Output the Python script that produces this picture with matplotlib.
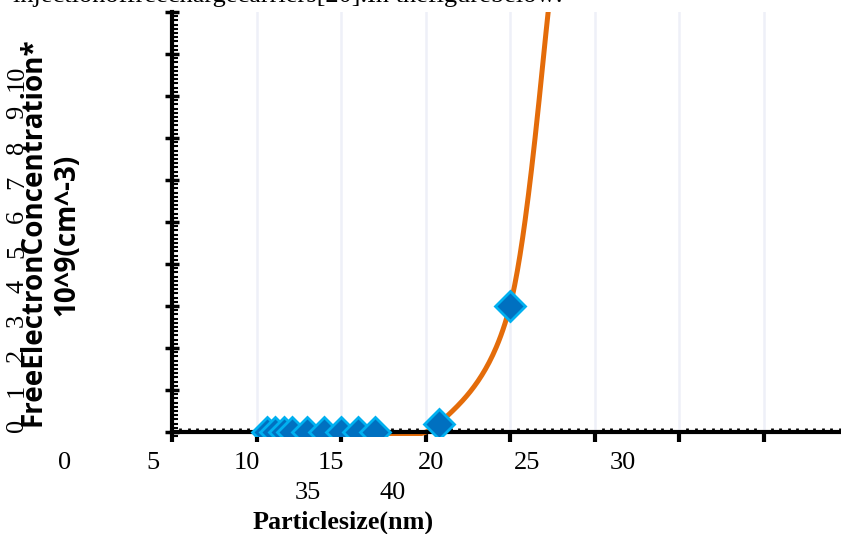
import numpy as np
import matplotlib
matplotlib.use("Agg")
import matplotlib.pyplot as plt
from matplotlib.ticker import MultipleLocator

# data
size_nm = [10.6, 11.1, 11.6, 12.1, 13.0, 14.0, 15.0, 16.0, 17.0, 20.8, 25.0, 27.4]
conc = [0.0, 0.0, 0.0, 0.0, 0.0, 0.0, 0.0, 0.0, 0.0, 0.2, 3.0, 10.5]

# tick labels as they appear (misplaced in the original)
x_labels_row1 = ["0", "5", "10", "15", "20", "25", "30"]
x_labels_row2 = ["35", "40"]
y_labels = ["0", "1", "2", "3", "4", "5", "6", "7", "8", "9", "10"]

W, H = 841, 534
ORANGE = "#E46C0A"
BLUE = "#0070C0"
LIGHT = "#00B0F0"


def smooth_line(x, y, steps=60):
    # spreadsheet style smoothed line: cubic Bezier pieces, Catmull-Rom handles
    p = np.column_stack([x, y]).astype(float)
    n = len(p)
    out = []
    t = np.linspace(0, 1, steps)[:, None]
    for i in range(n - 1):
        p0 = p[max(i - 1, 0)]
        p1 = p[i]
        p2 = p[i + 1]
        p3 = p[min(i + 2, n - 1)]
        c1 = p1 + (p2 - p0) / 6
        c2 = p2 - (p3 - p1) / 6
        seg = ((1 - t) ** 3 * p1 + 3 * (1 - t) ** 2 * t * c1
               + 3 * (1 - t) * t ** 2 * c2 + t ** 3 * p2)
        out.append(seg)
    pts = np.vstack(out)
    return pts[:, 0], pts[:, 1]


def px(x, y):
    return x / W, 1 - y / H


fig = plt.figure(figsize=(W / 100, H / 100), dpi=100)

# axes: x=5 at px 172, 16.9 px per unit; y=0 at px 432, 42 px per unit
ymin, ymax = -0.1, 10.0
top_px = 432 - ymax * 42
bot_px = 432 - ymin * 42
ax = fig.add_axes([172 / W, 1 - bot_px / H, (W - 172) / W, (bot_px - top_px) / H])
ax.set_xlim(5, 5 + (W - 172) / 16.9)
ax.set_ylim(ymin, ymax)

ax.spines["top"].set_visible(False)
ax.spines["right"].set_visible(False)
ax.spines["bottom"].set_position(("data", 0))
ax.spines["bottom"].set_linewidth(3)
ax.spines["left"].set_linewidth(3)
ax.spines["left"].set_bounds(0, ymax)

ax.xaxis.set_major_locator(MultipleLocator(5))
ax.xaxis.set_minor_locator(MultipleLocator(0.5))
ax.yaxis.set_major_locator(MultipleLocator(1))
ax.yaxis.set_minor_locator(MultipleLocator(0.1))
ax.tick_params(axis="x", which="major", direction="out", length=7, width=3,
               labelbottom=False)
ax.tick_params(axis="x", which="minor", direction="in", length=3, width=2)
ax.tick_params(axis="y", which="major", direction="inout", length=10, width=2.5,
               labelleft=False)
ax.tick_params(axis="y", which="minor", direction="in", length=4, width=1.5)

ax.grid(axis="x", which="major", color="#EEF0F8", linewidth=1.8, zorder=0)
ax.set_axisbelow(True)

lx, ly = smooth_line(size_nm, conc)
ax.plot(lx, ly, color=ORANGE, lw=3.6, solid_capstyle="butt", zorder=2)
ax.plot(size_nm, conc, linestyle="none", marker="D", markersize=15,
        markerfacecolor=BLUE, markeredgecolor=LIGHT, markeredgewidth=2,
        zorder=3)

serif = "Liberation Serif"

# clipped sentence at the very top
fig.text(*px(13, 2), "injectionoffreechargecarriers[20].In thefigurebelow:",
         fontsize=19, family=serif, va="baseline", ha="left")

# x tick labels (two rows, as in the reference)
row1_x = [65, 153, 247, 331, 431, 527, 623]
for lab, xp in zip(x_labels_row1, row1_x):
    fig.text(*px(xp, 463), lab, fontsize=19, family=serif, ha="center", va="center")
row2_x = [308, 393]
for lab, xp in zip(x_labels_row2, row2_x):
    fig.text(*px(xp, 493), lab, fontsize=19, family=serif, ha="center", va="center")

# y tick labels, rotated and squeezed under the axis title
for i, lab in enumerate(y_labels):
    fig.text(*px(17, 425 - i * 34.7), lab, fontsize=19, family=serif,
             rotation=90, ha="center", va="center")

fig.text(*px(343, 522), "Particlesize(nm)", fontsize=18.8, family=serif,
         weight="bold", ha="center", va="center")
fig.text(*px(33, 232), "FreeElectronConcentration*", fontsize=20,
         family="Open Sans", weight="bold", rotation=90, ha="center", va="center")
fig.text(*px(67, 235), "10^9(cm^-3)", fontsize=20, family="Open Sans",
         weight="bold", rotation=90, ha="center", va="center")

fig.savefig("out.png", dpi=100)
